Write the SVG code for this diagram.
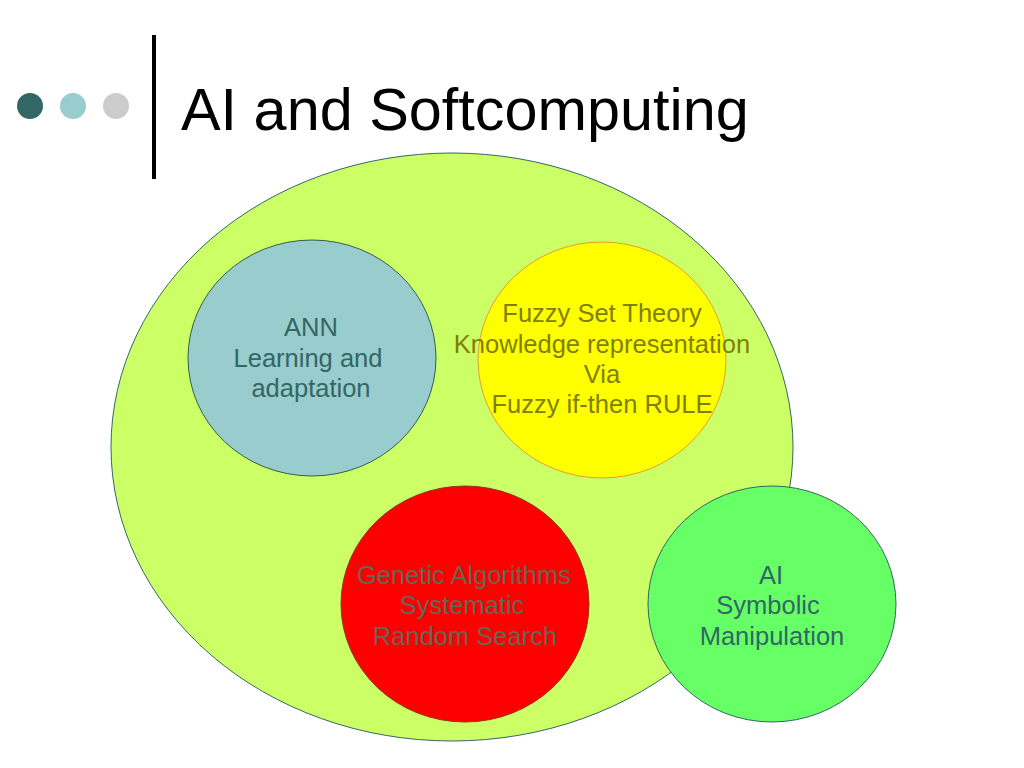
<svg xmlns="http://www.w3.org/2000/svg" width="1024" height="768" viewBox="0 0 1024 768">
<style>
.lbl{font-family:"Liberation Sans",Arial,sans-serif;font-size:25.5px;text-anchor:middle}
.title{font-family:"Liberation Sans",Arial,sans-serif;font-size:59.4px;fill:#000}
.c{stroke-width:1}
</style>
<rect width="1024" height="768" fill="#fff"/>
<g id="header">
<circle cx="30" cy="106" r="13" fill="#336666"/>
<circle cx="73" cy="106" r="13" fill="#99cccc"/>
<circle cx="116" cy="106" r="13" fill="#cccccc"/>
<rect x="152" y="35" width="4" height="144" fill="#000"/>
<text class="title" x="181" y="130">AI and Softcomputing</text>
</g>
<g id="softcomputing">
<ellipse class="c" cx="452" cy="447" rx="341" ry="294" fill="#ccff66" stroke="#336666"/>
</g>
<g id="ann">
<ellipse class="c" cx="312" cy="358" rx="124" ry="118" fill="#99cccc" stroke="#2f5f4f"/>
<text class="lbl" fill="#336666"><tspan x="311" y="336">ANN</tspan><tspan x="308" y="367">Learning and</tspan><tspan x="311" y="397">adaptation</tspan></text>
</g>
<g id="fuzzy">
<ellipse class="c" cx="602" cy="360" rx="124" ry="118" fill="#ffff00" stroke="#e0a030"/>
<text class="lbl" fill="#808000"><tspan x="602" y="322">Fuzzy Set Theory</tspan><tspan x="602" y="353">Knowledge representation</tspan><tspan x="602" y="383">Via</tspan><tspan x="602" y="413">Fuzzy if-then RULE</tspan></text>
</g>
<g id="ga">
<ellipse class="c" cx="465" cy="604" rx="124" ry="118" fill="#ff0000" stroke="#8a3a1a"/>
<text class="lbl" fill="#666655"><tspan x="464" y="584">Genetic Algorithms</tspan><tspan x="462" y="614">Systematic</tspan><tspan x="465" y="645">Random Search</tspan></text>
</g>
<g id="ai">
<ellipse class="c" cx="772" cy="604" rx="124" ry="118" fill="#66ff66" stroke="#336666"/>
<text class="lbl" fill="#336666"><tspan x="771" y="584">AI</tspan><tspan x="768" y="614">Symbolic</tspan><tspan x="772" y="645">Manipulation</tspan></text>
</g>
<g id="connectors"/>
</svg>
